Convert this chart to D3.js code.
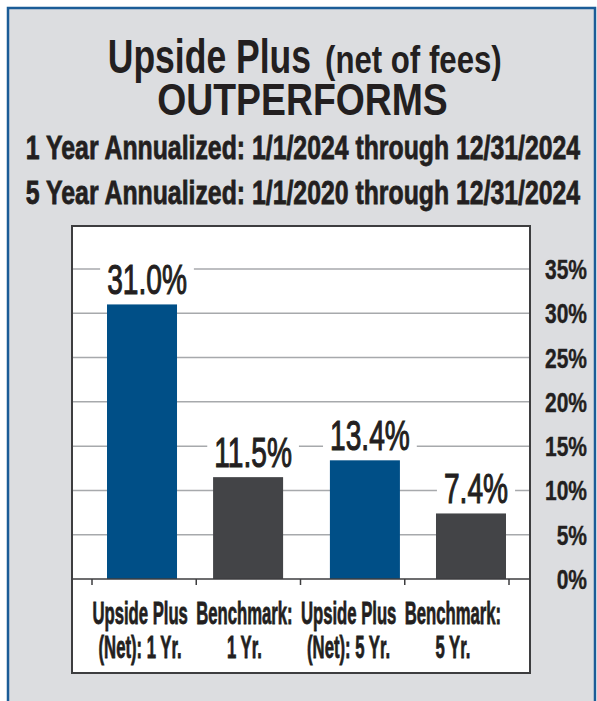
<!DOCTYPE html>
<html>
<head>
<meta charset="utf-8">
<script src="https://cdn.jsdelivr.net/npm/d3@7"></script>
<style>
  html, body { margin: 0; padding: 0; background: #fff; }
  svg { display: block; }
  text { font-family: "Liberation Sans", Arial, sans-serif; fill: #231f20; }
</style>
</head>
<body>
<div id="app"></div>
<script>
// data
const periods = ["1 Yr.", "5 Yr."];
const series = ["Upside Plus", "Benchmark"];
const categories = [
    ["Upside Plus", "(Net): 1 Yr."],
    ["Benchmark:", "1 Yr."],
    ["Upside Plus", "(Net): 5 Yr."],
    ["Benchmark:", "5 Yr."]
];
const values = [31.0, 11.5, 13.4, 7.4];
const valueLabels = ["31.0%", "11.5%", "13.4%", "7.4%"];
const yTicks = [0, 5, 10, 15, 20, 25, 30, 35];

const W = 597, H = 701;
const ink = "#231f20";
const colors = { "Upside Plus": "#004f87", "Benchmark": "#434447" };

const svg = d3.select("#app").append("svg")
    .attr("width", W)
    .attr("height", H);

// outer frame
svg.append("rect")
    .attr("x", 8).attr("y", 8)
    .attr("width", 587).attr("height", H + 10)
    .attr("fill", "#dcdde0")
    .attr("stroke", "#1b5c97")
    .attr("stroke-width", 2.5);

// condensed text helper: scale x only
const ctext = (parent, x, y, size, sx, anchor, heavy) => {
    const g = parent.append("g").attr("transform", `translate(${x},${y})`);
    const t = g.append("text")
        .attr("transform", `scale(${sx},1)`)
        .attr("text-anchor", anchor || "middle")
        .attr("font-size", size)
        .attr("font-weight", "bold");
    if (heavy) t.attr("stroke", ink).attr("stroke-width", heavy);
    return { g, t };
};

// titles
ctext(svg, 311, 73, 49, 0.725, "end").t.text("Upside Plus");
ctext(svg, 325, 73, 39, 0.8, "start").t.text("(net of fees)");
ctext(svg, 302.5, 115, 45, 0.83).t.text("OUTPERFORMS");
ctext(svg, 303, 159, 34, 0.73, "middle", 0.8).t.text("1 Year Annualized: 1/1/2024 through 12/31/2024");
ctext(svg, 303, 204, 34, 0.73, "middle", 0.8).t.text("5 Year Annualized: 1/1/2020 through 12/31/2024");

// plot panel
const panel = { left: 72, right: 530, top: 226, bottom: 673 };
svg.append("rect")
    .attr("x", panel.left).attr("y", panel.top)
    .attr("width", panel.right - panel.left)
    .attr("height", panel.bottom - panel.top)
    .attr("fill", "#fff")
    .attr("stroke", "#3d3d3f")
    .attr("stroke-width", 2);

const y = d3.scaleLinear().domain([0, 35]).range([579, 269]);

// grouped bar positions
const x0 = d3.scaleBand().domain(periods).range([107, 506]).paddingInner(0.21);
const x1 = d3.scaleBand().domain(series).range([0, x0.bandwidth()]).paddingInner(0.34);
const bars = values.map((v, i) => ({
    v,
    label: valueLabels[i],
    period: periods[Math.floor(i / 2)],
    serie: series[i % 2]
}));
const barX = d => x0(d.period) + x1(d.serie);

// uniform category scale for ticks and labels
const xc = d3.scaleBand().domain(d3.range(categories.length)).range([92, 509]);

// gridlines
svg.append("g")
    .selectAll("line")
    .data(yTicks.filter(d => d > 0))
    .join("line")
    .attr("x1", panel.left + 1).attr("x2", panel.right - 1)
    .attr("y1", d => y(d)).attr("y2", d => y(d))
    .attr("stroke", "#a7a9ac")
    .attr("stroke-width", 1.5);

// y tick labels on the right
yTicks.forEach(d => {
    ctext(svg, 587, y(d) + 10, 28, 0.75, "end", 0.4).t.text(`${d}%`);
});

// bars
svg.append("g")
    .selectAll("rect")
    .data(bars)
    .join("rect")
    .attr("x", barX)
    .attr("y", d => y(d.v))
    .attr("width", x1.bandwidth())
    .attr("height", d => y(0) - y(d.v))
    .attr("fill", d => colors[d.serie]);

// value labels with white knockout
bars.forEach(d => {
    const c = ctext(svg, barX(d) + x1.bandwidth() / 2 + 5, y(d.v) - 10, 42, 0.67);
    c.t.text(d.label).attr("font-weight", "normal")
        .attr("stroke", ink).attr("stroke-width", 1.1);
    const bb = c.g.node().getBBox();
    c.g.insert("rect", "text")
        .attr("x", bb.x - 7).attr("y", bb.y + 2)
        .attr("width", bb.width + 14).attr("height", bb.height - 4)
        .attr("fill", "#fff");
});

// baseline and ticks
svg.append("line")
    .attr("x1", panel.left).attr("x2", panel.right)
    .attr("y1", y(0)).attr("y2", y(0))
    .attr("stroke", "#3d3d3f").attr("stroke-width", 1.5);
const tickXs = categories.map((c, i) => xc(i)).concat([xc.range()[1]]);
svg.append("g")
    .selectAll("line")
    .data(tickXs)
    .join("line")
    .attr("x1", d => d).attr("x2", d => d)
    .attr("y1", y(0)).attr("y2", y(0) + 6)
    .attr("stroke", "#3d3d3f").attr("stroke-width", 1.5);

// category labels
categories.forEach((lines, i) => {
    const cx = xc(i) + xc.bandwidth() / 2 - 4;
    lines.forEach((ln, j) => {
        ctext(svg, cx, 624 + j * 33.5, 31.5, 0.53, "middle", 0.8).t.text(ln);
    });
});
</script>
</body>
</html>
